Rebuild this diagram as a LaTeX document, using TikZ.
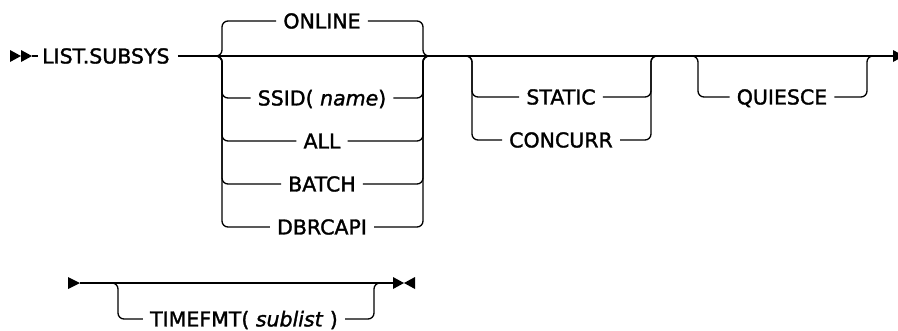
\documentclass[tikz,border=0pt]{standalone}
\usepackage{fontspec}
\setmainfont{DejaVu Sans}[RawFeature={embolden=1.5}]
\tikzset{
	rail/.style={line width=1.3pt, rounded corners=6pt},
	kw/.style={font=\fontsize{20.5}{24}\selectfont, text height=14.9pt, text depth=0pt, inner ysep=0pt, inner xsep=7pt},
	tip/.style={fill=black},
}
\begin{document}
\begin{tikzpicture}[x=1pt, y=-1pt]
	\useasboundingbox (0,0) rectangle (898,330);
	
	% first line
	\fill[tip] (10,50) -- (21,56) -- (10,62) -- cycle;
	\fill[tip] (21,50) -- (32,56) -- (21,62) -- cycle;
	\coordinate (head) at (32,56);
	\node[kw, inner xsep=4pt, anchor=west] (cmd) at (38,56) {LIST.SUBSYS};
	\coordinate (tail) at (893,56);
	\draw[rail] (head) -- (cmd.west);
	\draw[rail] ([xshift=4pt]cmd.east) -- (tail);
	\fill[tip] (893,50) -- (904,56) -- (893,62) -- cycle;
	
	\coordinate (g1l) at (216,56);
	\coordinate (g1r) at (429,56);
	\node[kw] (online) at (322,21) {ONLINE};
	\node[kw] (ssid) at (322,98) {SSID( \textit{name})};
	\node[kw] (all) at (322,141) {ALL};
	\node[kw] (batch) at (322,184) {BATCH};
	\node[kw] (dbrc) at (322,227) {DBRCAPI};
	\foreach \n in {online,ssid,all,batch,dbrc} {
		\draw[rail] (g1l) -- ++(6,0) |- (\n.west);
		\draw[rail] (\n.east) -| ([xshift=-6pt]g1r) -- (g1r);
	}
	
	\coordinate (g2l) at (466,56);
	\coordinate (g2r) at (657,56);
	\node[kw] (static) at (561,97) {STATIC};
	\node[kw] (concurr) at (561,140) {CONCURR};
	\foreach \n in {static,concurr} {
		\draw[rail] (g2l) -- ++(6,0) |- (\n.west);
		\draw[rail] (\n.east) -| ([xshift=-6pt]g2r) -- (g2r);
	}
	
	\coordinate (g3l) at (692,56);
	\coordinate (g3r) at (873,56);
	\node[kw] (quiesce) at (782,97) {QUIESCE};
	\draw[rail] (g3l) -- ++(6,0) |- (quiesce.west);
	\draw[rail] (quiesce.east) -| ([xshift=-6pt]g3r) -- (g3r);
	
	% second line
	\fill[tip] (68,277) -- (80,283) -- (68,289) -- cycle;
	\coordinate (head2) at (80,283);
	\coordinate (tail2) at (393,283);
	\draw[rail] (head2) -- (tail2);
	\fill[tip] (393,277) -- (404,283) -- (393,289) -- cycle;
	\fill[tip] (415,277) -- (404,283) -- (415,289) -- cycle;
	
	\coordinate (g4l) at (112,283);
	\coordinate (g4r) at (380,283);
	\node[kw] (timefmt) at (244,319) {TIMEFMT( \textit{sublist} )};
	\draw[rail] (g4l) -- ++(6,0) |- (timefmt.west);
	\draw[rail] (timefmt.east) -| ([xshift=-6pt]g4r) -- (g4r);
\end{tikzpicture}
\end{document}
